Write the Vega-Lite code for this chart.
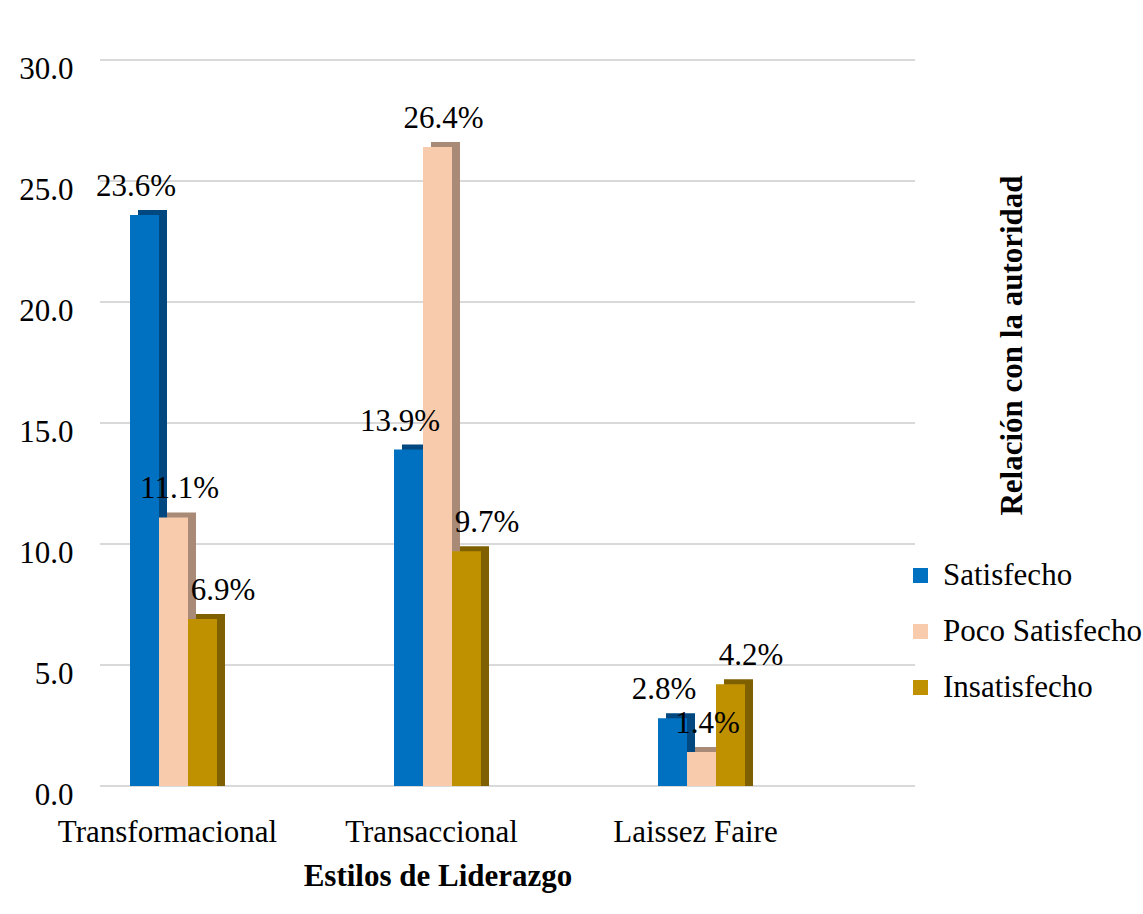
{
  "$schema": "https://vega.github.io/schema/vega-lite/v6.json",
  "width": 815,
  "height": 726,
  "autosize": {"type": "none"},
  "padding": {"left": 100, "top": 60, "right": 228, "bottom": 128},
  "background": "white",
  "config": {
    "view": {"stroke": null},
    "font": "Liberation Serif",
    "axis": {"labelColor": "black", "titleColor": "black", "labelFont": "Liberation Serif", "titleFont": "Liberation Serif"},
    "legend": {"labelColor": "black", "labelFont": "Liberation Serif"}
  },
  "datasets": {
    "valores": [
      {"estilo": "Transformacional", "nivel": "Satisfecho", "valor": 23.6, "label": "23.6%"},
      {"estilo": "Transformacional", "nivel": "Poco Satisfecho", "valor": 11.1, "label": "11.1%"},
      {"estilo": "Transformacional", "nivel": "Insatisfecho", "valor": 6.9, "label": "6.9%"},
      {"estilo": "Transaccional", "nivel": "Satisfecho", "valor": 13.9, "label": "13.9%"},
      {"estilo": "Transaccional", "nivel": "Poco Satisfecho", "valor": 26.4, "label": "26.4%"},
      {"estilo": "Transaccional", "nivel": "Insatisfecho", "valor": 9.7, "label": "9.7%"},
      {"estilo": "Laissez Faire", "nivel": "Satisfecho", "valor": 2.8, "label": "2.8%"},
      {"estilo": "Laissez Faire", "nivel": "Poco Satisfecho", "valor": 1.4, "label": "1.4%"},
      {"estilo": "Laissez Faire", "nivel": "Insatisfecho", "valor": 4.2, "label": "4.2%"}
    ],
    "grid": [
      {"valor": 0}, {"valor": 5}, {"valor": 10}, {"valor": 15}, {"valor": 20}, {"valor": 25}, {"valor": 30}
    ]
  },
  "data": {"name": "valores"},
  "layer": [
    {
      "data": {"name": "grid"},
      "mark": {"type": "rule", "color": "#d9d9d9", "strokeWidth": 2},
      "encoding": {
        "y": {
          "field": "valor",
          "type": "quantitative",
          "scale": {"domain": [0, 30], "nice": false},
          "axis": {
            "values": [0, 5, 10, 15, 20, 25, 30],
            "format": ".1f",
            "labelFontSize": 31,
            "labelPadding": 27,
            "labelOffset": 9,
            "ticks": false,
            "tickSize": 0,
            "domain": false,
            "grid": false,
            "title": null
          }
        }
      }
    },
    {
      "mark": {"type": "bar", "yOffset": -5, "y2Offset": -5},
      "encoding": {
        "x": {
          "field": "estilo",
          "type": "nominal",
          "sort": ["Transformacional", "Transaccional", "Laissez Faire"],
          "scale": {"range": [30, 645], "paddingInner": 0.6705, "paddingOuter": 0},
          "title": "Estilos de Liderazgo",
          "axis": {
            "labelAngle": 0,
            "labelFontSize": 31,
            "labelLimit": 400,
            "ticks": false,
            "tickSize": 0,
            "domain": false,
            "grid": false,
            "labelPadding": 31,
            "labelOffset": -6,
            "titleFontSize": 31,
            "titleFontWeight": "bold",
            "titlePadding": 14
          }
        },
        "xOffset": {
          "field": "nivel",
          "type": "nominal",
          "sort": ["Satisfecho", "Poco Satisfecho", "Insatisfecho"],
          "scale": {"range": [8, 95], "paddingInner": 0, "paddingOuter": 0}
        },
        "y": {
          "field": "valor",
          "type": "quantitative",
          "stack": null,
          "scale": {"domain": [0, 30], "nice": false},
          "axis": {
            "orient": "right",
            "labels": false,
            "ticks": false,
            "domain": false,
            "grid": false,
            "title": "Relación con la autoridad",
            "titleAngle": 270,
            "titleFontSize": 31,
            "titleFontWeight": "bold",
            "titleX": 97,
            "titleY": 285,
            "titleAlign": "center",
            "titleBaseline": "middle"
          }
        },
        "color": {
          "field": "nivel",
          "type": "nominal",
          "sort": ["Satisfecho", "Poco Satisfecho", "Insatisfecho"],
          "scale": {"domain": ["Satisfecho", "Poco Satisfecho", "Insatisfecho"], "range": ["#00487f", "#a88a77", "#7f6000"]},
          "legend": null
        }
      }
    },
    {
      "mark": {"type": "bar"},
      "encoding": {
        "x": {"field": "estilo", "type": "nominal", "sort": ["Transformacional", "Transaccional", "Laissez Faire"]},
        "xOffset": {
          "field": "nivel",
          "type": "nominal",
          "sort": ["Satisfecho", "Poco Satisfecho", "Insatisfecho"],
          "scale": {"range": [0, 87], "paddingInner": 0, "paddingOuter": 0}
        },
        "y": {
          "field": "valor",
          "type": "quantitative",
          "stack": null,
          "scale": {"domain": [0, 30], "nice": false},
          "axis": null
        },
        "color": {
          "field": "nivel",
          "type": "nominal",
          "sort": ["Satisfecho", "Poco Satisfecho", "Insatisfecho"],
          "scale": {"domain": ["Satisfecho", "Poco Satisfecho", "Insatisfecho"], "range": ["#0070c0", "#f8cbad", "#bf9000"]},
          "legend": {
            "orient": "none",
            "legendX": 805,
            "legendY": 500,
            "title": null,
            "symbolType": "square",
            "symbolSize": 225,
            "symbolStrokeWidth": 0,
            "labelFontSize": 31,
            "labelOffset": 7,
            "rowPadding": 24,
            "padding": 0,
            "labelLimit": 400
          }
        }
      }
    },
    {
      "mark": {"type": "text", "fontSize": 31, "baseline": "middle", "dy": -28, "dx": 6, "color": "black", "font": "Liberation Serif"},
      "encoding": {
        "x": {"field": "estilo", "type": "nominal", "sort": ["Transformacional", "Transaccional", "Laissez Faire"]},
        "xOffset": {
          "field": "nivel",
          "type": "nominal",
          "sort": ["Satisfecho", "Poco Satisfecho", "Insatisfecho"],
          "scale": {"range": [0, 87], "paddingInner": 0, "paddingOuter": 0}
        },
        "y": {
          "field": "valor",
          "type": "quantitative",
          "stack": null,
          "scale": {"domain": [0, 30], "nice": false},
          "axis": null
        },
        "text": {"field": "label", "type": "nominal"}
      }
    }
  ],
  "resolve": {
    "scale": {"xOffset": "independent", "color": "independent"},
    "axis": {"y": "independent"}
  }
}
